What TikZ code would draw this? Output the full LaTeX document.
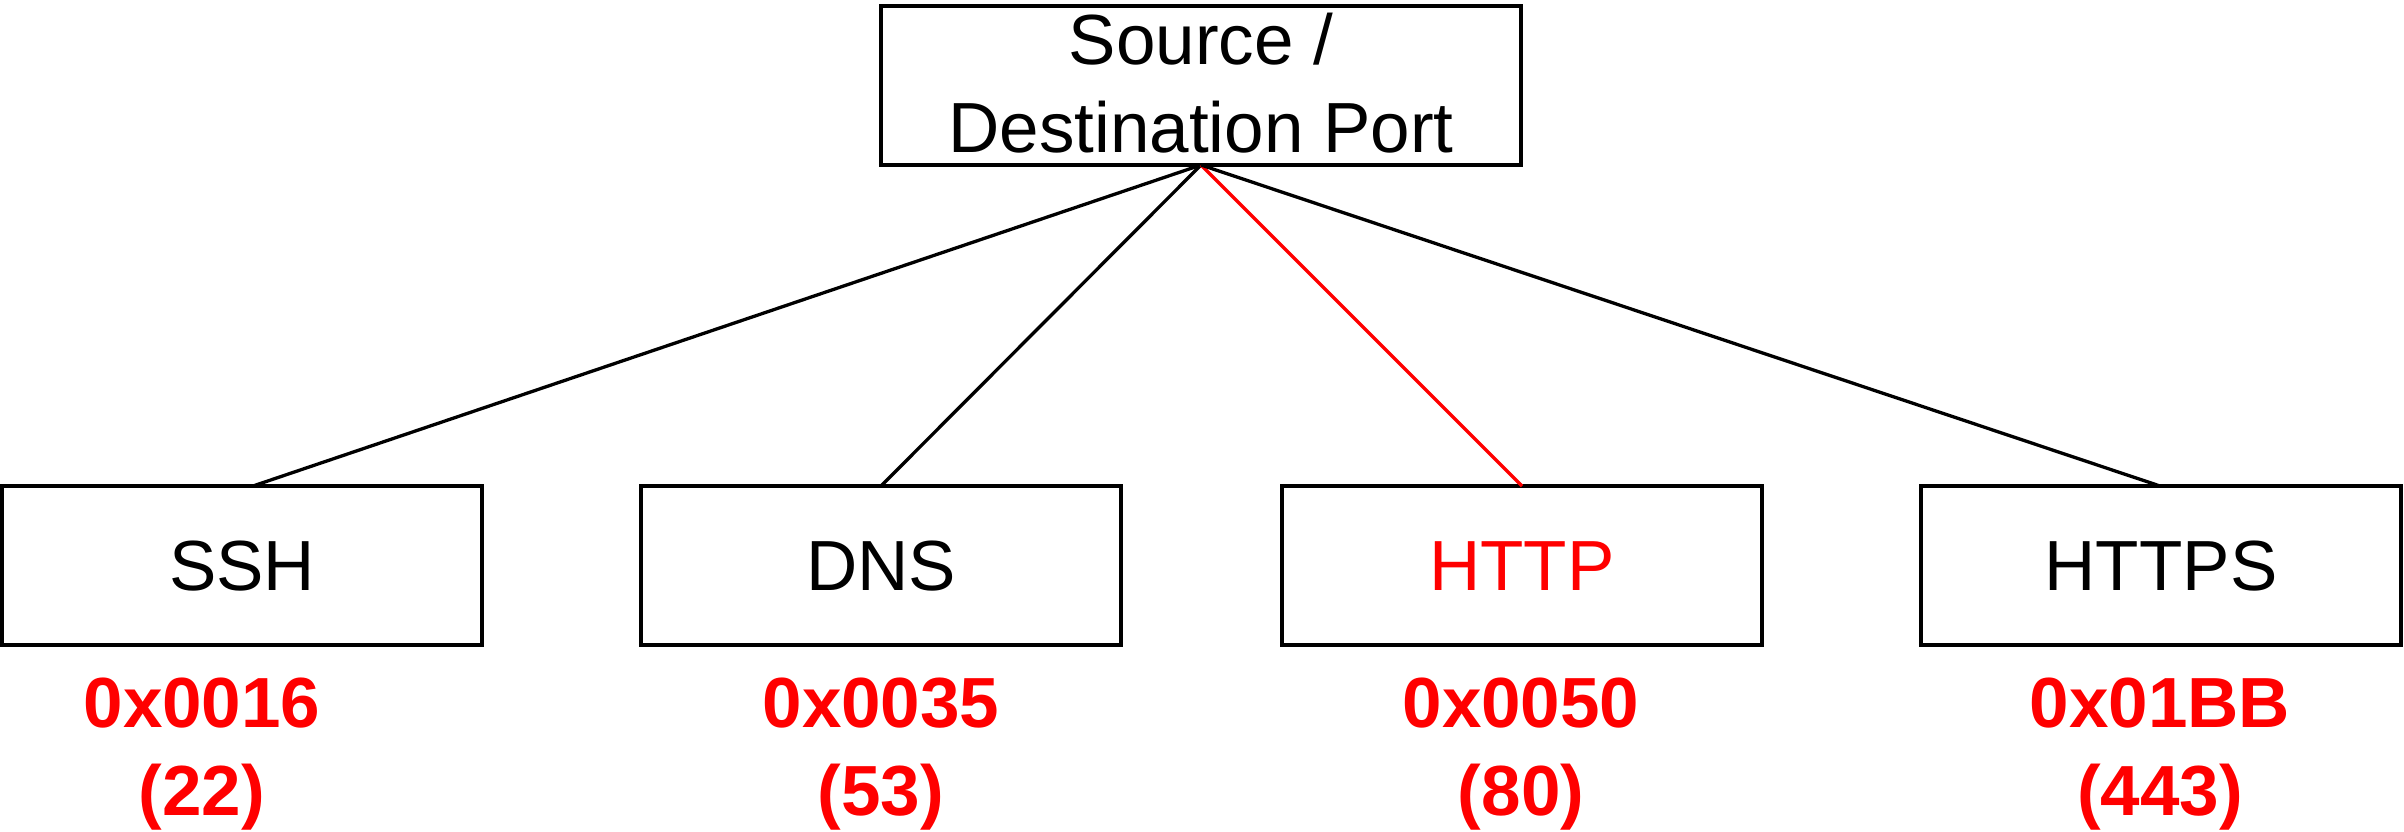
\documentclass[tikz,border=0pt]{standalone}
\usepackage{fontspec}
\setmainfont{Liberation Sans}
\begin{document}
\begin{tikzpicture}[x=1pt,y=-1pt,
  box/.style={draw=black,line width=3.3pt,inner sep=0pt,outer sep=0pt,
    minimum width=480pt,minimum height=159pt,
    font=\fontsize{71}{88}\selectfont,text height=50.7pt,text depth=0pt},
  topbox/.style={box,minimum width=640pt,align=center,text height=,text depth=5.5pt},
  val/.style={text=red,inner sep=0pt,anchor=base,font=\fontsize{71}{88}\selectfont\bfseries},
  link/.style={line width=3.3pt,draw=black}]
\useasboundingbox (0,0) rectangle (2404,832);
\node[topbox] (top) at (1201,85.5) {Source /\\Destination Port};
\node[box] (ssh) at (242,565.5) {SSH};
\node[box] (dns) at (881,565.5) {DNS};
\node[box,text=red] (http) at (1522,565.5) {HTTP};
\node[box] (https) at (2161,565.5) {HTTPS};
\coordinate (sshend) at ([xshift=11pt]ssh.north);
\coordinate (httpsend) at ([xshift=-1pt]https.north);
\draw[link] (top.south) -- (sshend);
\draw[link] (top.south) -- (dns.north);
\draw[link,draw=red] (top.south) -- (http.north);
\draw[link] (top.south) -- (httpsend);
\node[val] (v1a) at (202,727) {0x0016};
\node[val] (v1b) at (202,815) {(22)};
\node[val] (v2a) at (881,727) {0x0035};
\node[val] (v2b) at (881,815) {(53)};
\node[val] (v3a) at (1521,727) {0x0050};
\node[val] (v3b) at (1521,815) {(80)};
\node[val] (v4a) at (2160,727) {0x01BB};
\node[val] (v4b) at (2160,815) {(443)};
\end{tikzpicture}
\end{document}
